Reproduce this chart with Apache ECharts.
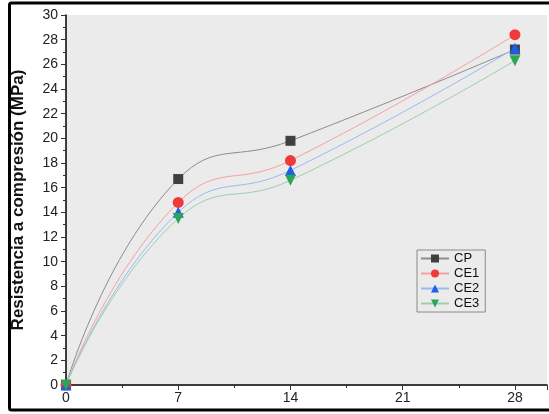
<!DOCTYPE html>
<html>
<head>
<meta charset="utf-8">
<script src="https://cdn.jsdelivr.net/npm/echarts@6/dist/echarts.min.js"></script>
<style>
  html, body { margin: 0; padding: 0; background: #fff; }
  #chart { width: 549px; height: 414px; }
</style>
</head>
<body>
<div id="chart"></div>
<script>
// edades (dias)
const dias = [0, 7, 14, 28]
const cp = [0, 16.7, 19.8, 27.2]
const ce1 = [0, 14.8, 18.2, 28.4]
const ce2 = [0, 14.0, 17.4, 27.3]
const ce3 = [0, 13.5, 16.6, 26.3]
const names = ['CP', 'CE1', 'CE2', 'CE3']

const pairs = (ys) => dias.map((d, i) => [d, ys[i]])

const mkSeries = (name, ys, symbol, markColor, lineColor, size) => ({
  name: name,
  type: 'line',
  smooth: 0.5,
  data: pairs(ys),
  symbol: symbol,
  symbolSize: size,
  showSymbol: true,
  lineStyle: { width: 1, color: lineColor },
  itemStyle: { color: markColor },
  emphasis: { disabled: true },
})

const triDown = 'path://M0,0 L10,0 L5,9 Z'

const chart = echarts.init(document.getElementById('chart'))
chart.setOption({
  animation: false,
  backgroundColor: '#ffffff',
  graphic: [{
    type: 'rect',
    shape: { x: 9.5, y: 3, width: 600, height: 407, r: 2 },
    style: { fill: 'none', stroke: '#000', lineWidth: 3 },
    z: -1,
  }],
  grid: {
    left: 66,
    top: 15,
    right: 2,
    bottom: 29,
    show: true,
    backgroundColor: '#ebebeb',
    borderWidth: 0,
  },
  legend: {
    orient: 'vertical',
    left: 417,
    top: 250,
    data: names,
    itemWidth: 28,
    itemHeight: 10,
    itemGap: 2,
    padding: [2, 6, 2, 3],
    borderColor: '#8a8a8a',
    borderWidth: 1,
    backgroundColor: '#ebebeb',
    textStyle: { fontFamily: 'Liberation Sans, Arial', fontSize: 13, color: '#111' },
  },
  xAxis: {
    type: 'value',
    min: 0,
    max: 30,
    interval: 7,
    axisLine: { show: true, lineStyle: { color: '#000', width: 1.5 } },
    axisTick: { show: true, length: 5, lineStyle: { color: '#333' } },
    minorTick: { show: true, splitNumber: 2, length: 3, lineStyle: { color: '#333' } },
    splitLine: { show: false },
    axisLabel: {
      showMaxLabel: false,
      margin: 6,
      fontFamily: 'Liberation Sans, Arial',
      fontSize: 14,
      color: '#222',
    },
  },
  yAxis: {
    type: 'value',
    min: 0,
    max: 30,
    interval: 2,
    name: 'Resistencia a compresión (MPa)',
    nameLocation: 'middle',
    nameGap: 39,
    nameTextStyle: { fontFamily: 'Liberation Sans, Arial', fontSize: 17, fontWeight: 'bold', color: '#111' },
    axisLine: { show: true, lineStyle: { color: '#000', width: 1.5 } },
    axisTick: { show: true, length: 5, lineStyle: { color: '#333' } },
    minorTick: { show: true, splitNumber: 2, length: 3, lineStyle: { color: '#333' } },
    splitLine: { show: false },
    axisLabel: {
      margin: 8,
      fontFamily: 'Liberation Sans, Arial',
      fontSize: 14,
      color: '#222',
    },
  },
  series: [
    mkSeries('CP', cp, 'rect', '#404040', '#8c8c8c', 10),
    mkSeries('CE1', ce1, 'circle', '#f03a3a', '#f4a0a0', 11),
    mkSeries('CE2', ce2, 'triangle', '#1c5ee6', '#9bb8f0', 11),
    mkSeries('CE3', ce3, triDown, '#2ea35a', '#9ad0ae', 11),
  ],
})
</script>
</body>
</html>
